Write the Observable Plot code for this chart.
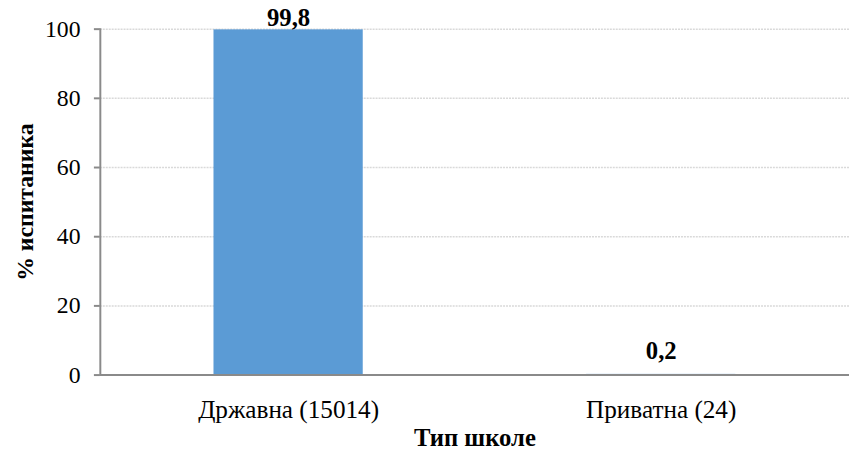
<!DOCTYPE html>
<html>
<head>
<meta charset="utf-8">
<script src="https://cdn.jsdelivr.net/npm/d3@7"></script>
<script src="https://cdn.jsdelivr.net/npm/@observablehq/plot@0.6"></script>
<style>
  html, body { margin: 0; padding: 0; background: #fff; overflow: hidden; }
  #chart { width: 849px; height: 457px; overflow: hidden; }
  #chart svg, #chart svg text { font-family: "Liberation Serif", "Times New Roman", serif !important; }
  #chart g[aria-label="y-axis label"] text { font-weight: bold; font-size: 24px; }
  #chart g[aria-label="x-axis label"] text { font-weight: bold; font-size: 25px; }
</style>
</head>
<body>
<div id="chart"></div>
<script>
const categories = ["Државна (15014)", "Приватна (24)"];
const values = [99.8, 0.2];
const yTicks = [0, 20, 40, 60, 80, 100];
const yTitle = "% испитаника";
const xTitle = "Тип школе";

const data = categories.map((c, i) => ({cat: c, value: values[i]}));
const fmt = v => String(v).replace(".", ",");

const chart = Plot.plot({
  width: 859,
  height: 457,
  marginLeft: 101,
  marginRight: 0,
  marginTop: 29,
  marginBottom: 78,
  style: {fontSize: "24px", color: "#000", background: "#fff"},
  x: {domain: categories, paddingInner: 0.6, paddingOuter: 0.305, label: null},
  y: {domain: [0, 100], label: null},
  marks: [
    Plot.gridY(yTicks, {stroke: "#d9d9d9", strokeOpacity: 1, strokeWidth: 1.5, strokeDasharray: "2,1"}),
    Plot.barY(data, {x: "cat", y: "value", fill: "#5B9BD5"}),
    Plot.ruleY([0], {stroke: "#8a8a8a", strokeWidth: 2}),
    Plot.frame({anchor: "left", stroke: "#8a8a8a", strokeWidth: 2}),
    Plot.axisY(yTicks, {tickSize: 6, tickPadding: 14, stroke: "#8a8a8a", strokeWidth: 2, fontSize: 24,
      label: yTitle, labelAnchor: "center", labelArrow: "none", labelOffset: 85}),
    Plot.axisX({tickSize: 0, tickPadding: 25, fontSize: 25.5,
      label: xTitle, labelAnchor: "center", labelArrow: "none", labelOffset: 72}),
    Plot.text(data.filter(d => d.value > 50), {x: "cat", y: "value", text: d => fmt(d.value), dy: -12, fontWeight: "bold", fontSize: 25}),
    Plot.text(data.filter(d => d.value <= 50), {x: "cat", y: "value", text: d => fmt(d.value), dy: -24, fontWeight: "bold", fontSize: 25})
  ]
});
document.getElementById("chart").appendChild(chart);
</script>
</body>
</html>
